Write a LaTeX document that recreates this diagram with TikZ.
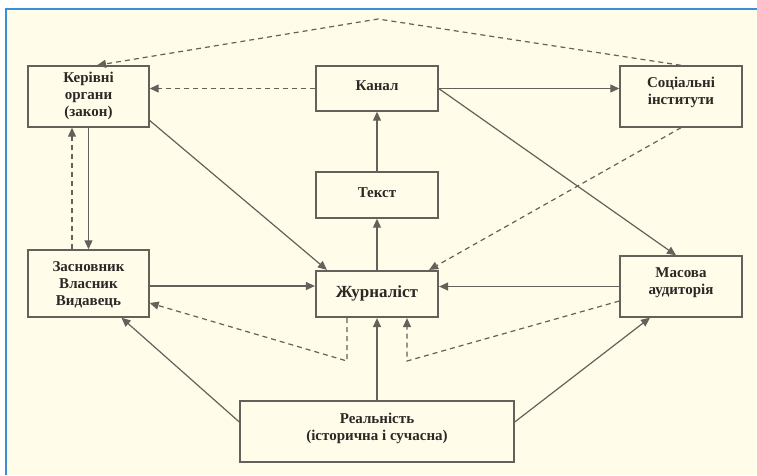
\documentclass[tikz,border=0pt]{standalone}
\usepackage{fontspec}
\setmainfont{Liberation Serif}
\usetikzlibrary{arrows.meta}
\definecolor{paper}{HTML}{FFFDE9}
\definecolor{frameblue}{HTML}{3A8ED4}
\definecolor{ink}{HTML}{2B2826}
\definecolor{wire}{HTML}{66605B}
\begin{document}
\begin{tikzpicture}[x=1pt,y=-1pt,
  box/.style={draw=wire, line width=1.4pt, fill=paper, rectangle, inner sep=0pt},
  caption/.style={text=ink, font=\fontsize{15}{17}\selectfont\bfseries, align=center, inner sep=0pt},
  link/.style={draw=wire, line width=1.2pt, -{Triangle[length=9pt,width=8pt]}},
  hint/.style={link, dash pattern=on 5pt off 4pt}]
\useasboundingbox (0,0) rectangle (757,475);
% page and blue frame
\fill[white] (0,0) rectangle (757,475);
\fill[paper] (6,9) rectangle (757,475);
\draw[frameblue, line width=1.5pt] (6,475) -- (6,9) -- (757,9);

% boxes
\node[box, minimum width=121, minimum height=61] (ker) at (88.5,96.5) {};
\node[caption] (kert) at (88.5,96) {Керівні\\органи\\(закон)};
\node[box, minimum width=122, minimum height=45] (kanal) at (377,88.5) {};
\node[caption] (kanalt) at (377,86) {Канал};
\node[box, minimum width=122, minimum height=46] (tekst) at (377,195) {};
\node[caption] (tekstt) at (377,193) {Текст};
\node[box, minimum width=122, minimum height=61] (soc) at (681,96.5) {};
\node[caption] (soct) at (681,92) {Соціальні\\інститути};
\node[box, minimum width=121, minimum height=67] (zas) at (88.5,283.5) {};
\node[caption] (zast) at (88.5,284.5) {Засновник\\Власник\\Видавець};
\node[box, line width=2.2pt, minimum width=122, minimum height=46] (zhur) at (377,294) {};
\node[caption, font=\fontsize{17}{19}\selectfont\bfseries] (zhurt) at (377,293) {Журналіст};
\node[box, minimum width=122, minimum height=61] (mas) at (681,286.5) {};
\node[caption] (mast) at (681,282.5) {Масова\\аудиторія};
\node[box, minimum width=274, minimum height=61] (real) at (377,431.5) {};
\node[caption] (realt) at (377,428) {Реальність\\(історична і сучасна)};

% turning points of the dashed links
\coordinate (peak) at (378,19);
\coordinate (lowl) at (347,361);
\coordinate (lowr) at (407,361);

% solid links
\draw[link] (tekst.north) -- (kanal.south);
\draw[link] (zhur.north) -- (tekst.south);
\draw[link] (real.north) -- (zhur.south);
\draw[link] (kanal.east) -- (kanal.east -| soc.west);
\draw[link] (kanal.east) -- ([xshift=-5pt]mas.north);
\draw[link] ([yshift=-24pt]ker.east) -- ([xshift=12pt]zhur.north west);
\draw[link] (ker.south) -- (zas.north);
\draw[link] ([yshift=-2.5pt]zas.east) -- ([yshift=-2.5pt]zas.east -| zhur.west);
\draw[link] (mas.west) -- (mas.west -| zhur.east);
\draw[link] ([yshift=9.5pt]real.west) -- ([xshift=33pt]zas.south);
\draw[link] ([yshift=9.5pt]real.east) -- ([xshift=-31pt]mas.south);

% dashed links
\draw[hint] (soc.north) -- (peak) -- ([xshift=8.5pt]ker.north);
\draw[hint] (kanal.west) -- (kanal.west -| ker.east);
\draw[hint] (soc.south) -- ([xshift=-10pt]zhur.north east);
\draw[hint] ([xshift=-16.5pt]zas.north) -- ([xshift=-16.5pt]ker.south);
\draw[hint] ([xshift=-30pt]zhur.south) -- (lowl) -- ([yshift=-19.5pt]zas.east);
\draw[hint] ([yshift=-14.5pt]mas.west) -- (lowr) -- ([xshift=30pt]zhur.south);
\end{tikzpicture}
\end{document}
